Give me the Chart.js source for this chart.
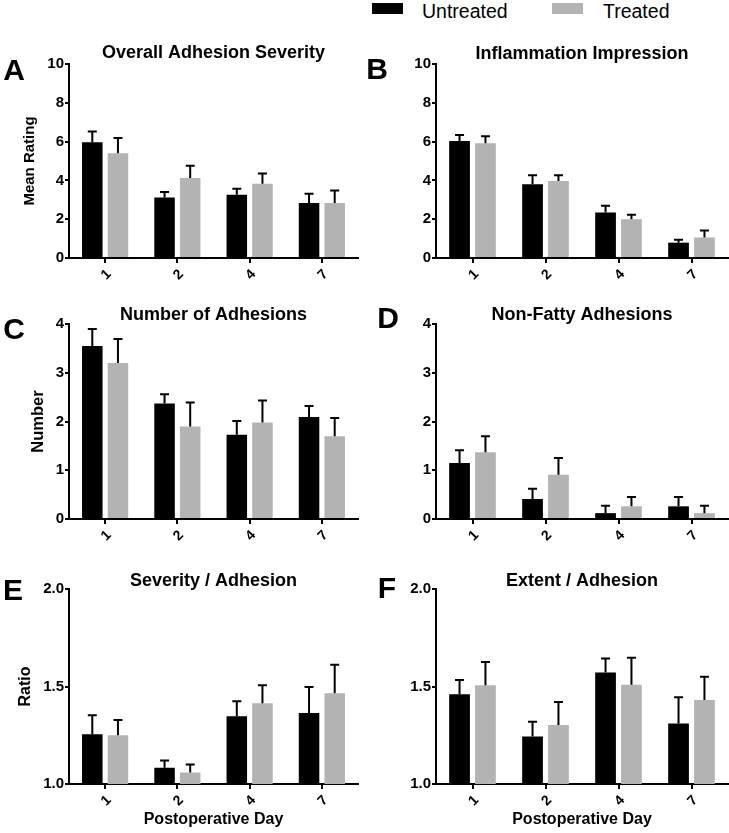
<!DOCTYPE html>
<html lang="en">
<head>
<meta charset="UTF-8">
<title>Adhesions by postoperative day</title>
<script src="https://cdn.jsdelivr.net/npm/chart.js"></script>
<style>
  body { margin: 0; background: #fff; font-family: "Liberation Sans", Arial, sans-serif; }
  #page { position: relative; width: 729px; height: 833px; overflow: hidden; }
  .panel { position: absolute; }
  .key { position: absolute; top: 3px; width: 31px; height: 11px; }
  .keyText { position: absolute; top: 0px; font-size: 19.5px; line-height: 22px; color: #000; }
</style>
</head>
<body>
<div id="page">
  <div class="key" style="left:372px; background:#000;"></div>
  <div class="keyText" style="left:422px;">Untreated</div>
  <div class="key" style="left:552px; background:#b3b3b3;"></div>
  <div class="keyText" style="left:603px;">Treated</div>

  <canvas class="panel" id="chartA" width="364" height="265" style="left:0; top:30px;"></canvas>
  <canvas class="panel" id="chartB" width="364" height="265" style="left:365px; top:30px;"></canvas>
  <canvas class="panel" id="chartC" width="364" height="265" style="left:0; top:295px;"></canvas>
  <canvas class="panel" id="chartD" width="364" height="265" style="left:365px; top:295px;"></canvas>
  <canvas class="panel" id="chartE" width="364" height="273" style="left:0; top:560px;"></canvas>
  <canvas class="panel" id="chartF" width="364" height="273" style="left:365px; top:560px;"></canvas>
</div>

<script>
// postoperative days
const days = ['1', '2', '4', '7'];

// A - overall adhesion severity (mean, SEM)
const severityUntreated = [5.97, 3.12, 3.26, 2.83];
const severityUntreatedErr = [0.55, 0.28, 0.31, 0.48];
const severityTreated = [5.40, 4.12, 3.83, 2.83];
const severityTreatedErr = [0.79, 0.63, 0.53, 0.65];

// B - inflammation impression
const inflamUntreated = [6.03, 3.80, 2.35, 0.79];
const inflamUntreatedErr = [0.31, 0.46, 0.34, 0.15];
const inflamTreated = [5.91, 3.97, 2.00, 1.06];
const inflamTreatedErr = [0.37, 0.29, 0.23, 0.36];

// C - number of adhesions
const numberUntreated = [3.55, 2.37, 1.73, 2.09];
const numberUntreatedErr = [0.35, 0.19, 0.28, 0.23];
const numberTreated = [3.20, 1.90, 1.98, 1.70];
const numberTreatedErr = [0.49, 0.49, 0.45, 0.37];

// D - non-fatty adhesions
const nonFattyUntreated = [1.15, 0.41, 0.12, 0.26];
const nonFattyUntreatedErr = [0.26, 0.21, 0.15, 0.19];
const nonFattyTreated = [1.37, 0.91, 0.26, 0.12];
const nonFattyTreatedErr = [0.33, 0.34, 0.19, 0.15];

// E - severity / adhesion
const sevPerUntreated = [1.255, 1.083, 1.347, 1.364];
const sevPerUntreatedErr = [0.097, 0.038, 0.077, 0.133];
const sevPerTreated = [1.250, 1.059, 1.414, 1.466];
const sevPerTreatedErr = [0.078, 0.041, 0.093, 0.146];

// F - extent / adhesion
const extPerUntreated = [1.460, 1.243, 1.572, 1.310];
const extPerUntreatedErr = [0.073, 0.076, 0.071, 0.135];
const extPerTreated = [1.507, 1.302, 1.509, 1.431];
const extPerTreatedErr = [0.119, 0.119, 0.138, 0.119];

const FONT = '"Liberation Sans", Arial, sans-serif';
Chart.defaults.font.family = FONT;
Chart.defaults.font.size = 14;
Chart.defaults.font.weight = 'bold';
Chart.defaults.color = '#000';

// one-sided error bars drawn through the y scale
const errorBars = {
  id: 'errorBars',
  afterDatasetsDraw(chart, args, opts) {
    const ctx = chart.ctx;
    const y = chart.scales.y;
    ctx.save();
    ctx.strokeStyle = '#000';
    ctx.lineWidth = 2;
    chart.data.datasets.forEach((ds, i) => {
      const meta = chart.getDatasetMeta(i);
      meta.data.forEach((bar, j) => {
        const top = y.getPixelForValue(ds.data[j] + opts.errors[i][j]);
        ctx.beginPath();
        ctx.moveTo(bar.x, bar.y);
        ctx.lineTo(bar.x, top);
        ctx.moveTo(bar.x - 4.5, top);
        ctx.lineTo(bar.x + 4.5, top);
        ctx.stroke();
      });
    });
    ctx.restore();
  }
};

// panel title and letter
const panelText = {
  id: 'panelText',
  afterDraw(chart, args, opts) {
    const ctx = chart.ctx;
    const area = chart.chartArea;
    ctx.save();
    ctx.fillStyle = '#000';
    ctx.textAlign = 'center';
    ctx.textBaseline = 'middle';
    ctx.font = 'bold 18px ' + FONT;
    ctx.fillText(opts.title, (area.left + area.right) / 2, opts.titleY);
    ctx.font = 'bold 30px ' + FONT;
    ctx.fillText(opts.letter, opts.letterX, opts.letterY);
    ctx.restore();
  }
};

const xTickFont = { family: FONT, size: 14, weight: 'bold' };
const yTickFont = { family: FONT, size: 15, weight: 'bold' };

function makePanel(id, p) {
  const ctx = document.getElementById(id).getContext('2d');
  return new Chart(ctx, {
    type: 'bar',
    data: {
      labels: days,
      datasets: [
        { label: 'Untreated', data: p.untreated, backgroundColor: '#000', borderWidth: 0 },
        { label: 'Treated', data: p.treated, backgroundColor: '#b3b3b3', borderWidth: 0 }
      ]
    },
    options: {
      responsive: false,
      animation: false,
      devicePixelRatio: 1,
      categoryPercentage: 0.71,
      barPercentage: 0.8,
      layout: { padding: { top: p.padTop, right: p.padRight, left: 0, bottom: 0 } },
      plugins: {
        legend: { display: false },
        tooltip: { enabled: false },
        errorBars: { errors: [p.untreatedErr, p.treatedErr] },
        panelText: { title: p.title, titleY: p.titleY, letter: p.letter, letterX: p.letterX, letterY: p.letterY }
      },
      scales: {
        x: {
          offset: true,
          grid: { display: true, offset: false, drawOnChartArea: false, drawTicks: true, tickLength: 5, lineWidth: 2, color: '#000' },
          border: { display: true, width: 2, color: '#000' },
          ticks: { minRotation: 45, maxRotation: 45, padding: 3, labelOffset: 4, font: xTickFont },
          title: { display: !!p.xTitle, text: p.xTitle || '', font: { size: 16, weight: 'bold' }, padding: { top: 0, bottom: 4 } },
          afterFit(scale) { scale.height = p.xHeight; }
        },
        y: {
          min: p.min, max: p.max,
          grid: { display: true, drawOnChartArea: false, drawTicks: true, tickLength: 4, lineWidth: 2, color: '#000' },
          border: { display: true, width: 2, color: '#000' },
          ticks: {
            stepSize: p.step, padding: 1,
            font: yTickFont,
            callback: v => p.decimals ? v.toFixed(1) : String(v)
          },
          title: { display: !!p.yTitle, text: p.yTitle || '', font: { size: p.yTitleSize || 15, weight: 'bold' }, padding: { top: p.yTitlePad || 0, bottom: 0 } },
          afterFit(scale) { scale.width = p.yWidth; }
        }
      }
    },
    plugins: [errorBars, panelText]
  });
}

makePanel('chartA', {
  untreated: severityUntreated, untreatedErr: severityUntreatedErr,
  treated: severityTreated, treatedErr: severityTreatedErr,
  title: 'Overall Adhesion Severity', titleY: 23, letter: 'A', letterX: 14, letterY: 42,
  min: 0, max: 10, step: 2, yTitle: 'Mean Rating', yTitleSize: 15, yTitlePad: 21,
  padTop: 34, padRight: 6, xHeight: 37, yWidth: 69
});
makePanel('chartB', {
  untreated: inflamUntreated, untreatedErr: inflamUntreatedErr,
  treated: inflamTreated, treatedErr: inflamTreatedErr,
  title: 'Inflammation Impression', titleY: 24, letter: 'B', letterX: 12, letterY: 41,
  min: 0, max: 10, step: 2,
  padTop: 34, padRight: 1, xHeight: 37, yWidth: 71
});
makePanel('chartC', {
  untreated: numberUntreated, untreatedErr: numberUntreatedErr,
  treated: numberTreated, treatedErr: numberTreatedErr,
  title: 'Number of Adhesions', titleY: 20, letter: 'C', letterX: 14, letterY: 36,
  min: 0, max: 4, step: 1, yTitle: 'Number', yTitleSize: 16.5, yTitlePad: 28.5,
  padTop: 29, padRight: 6, xHeight: 41, yWidth: 69
});
makePanel('chartD', {
  untreated: nonFattyUntreated, untreatedErr: nonFattyUntreatedErr,
  treated: nonFattyTreated, treatedErr: nonFattyTreatedErr,
  title: 'Non-Fatty Adhesions', titleY: 20, letter: 'D', letterX: 23, letterY: 25,
  min: 0, max: 4, step: 1,
  padTop: 29, padRight: 1, xHeight: 41, yWidth: 71
});
makePanel('chartE', {
  untreated: sevPerUntreated, untreatedErr: sevPerUntreatedErr,
  treated: sevPerTreated, treatedErr: sevPerTreatedErr,
  title: 'Severity / Adhesion', titleY: 21, letter: 'E', letterX: 13, letterY: 32,
  min: 1, max: 2, step: 0.5, decimals: true, yTitle: 'Ratio', yTitleSize: 16, yTitlePad: 15.5,
  xTitle: 'Postoperative Day',
  padTop: 29, padRight: 6, xHeight: 49, yWidth: 69
});
makePanel('chartF', {
  untreated: extPerUntreated, untreatedErr: extPerUntreatedErr,
  treated: extPerTreated, treatedErr: extPerTreatedErr,
  title: 'Extent / Adhesion', titleY: 21, letter: 'F', letterX: 22, letterY: 30,
  min: 1, max: 2, step: 0.5, decimals: true,
  xTitle: 'Postoperative Day',
  padTop: 29, padRight: 1, xHeight: 49, yWidth: 71
});
</script>
</body>
</html>
